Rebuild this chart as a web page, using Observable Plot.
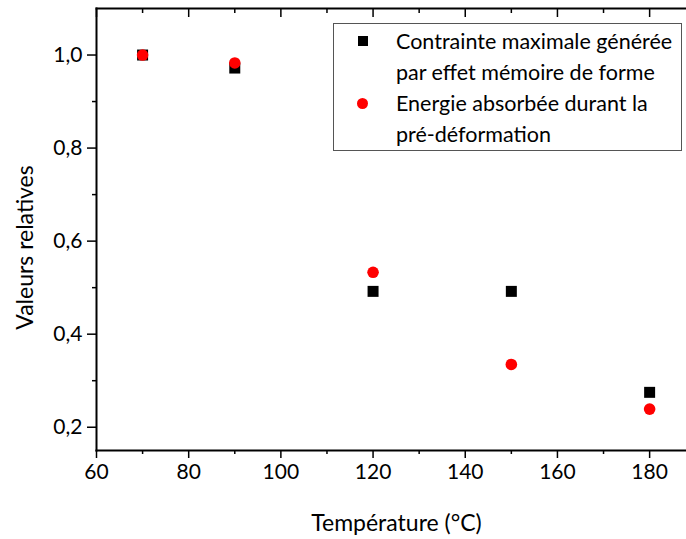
<!DOCTYPE html>
<html><head><meta charset="utf-8">
<script src="https://cdn.jsdelivr.net/npm/d3@7"></script>
<script src="https://cdn.jsdelivr.net/npm/@observablehq/plot@0.6"></script>
<style>
body{margin:0;background:#fff;}
#wrap{position:relative;width:686px;height:539px;font-family:Lato,sans-serif;}
#legend{position:absolute;left:333px;top:23px;width:349px;height:128px;border:1px solid #555;box-sizing:border-box;background:#fff;font-size:21.5px;color:#000;}
#legend .row{position:absolute;left:62px;white-space:nowrap;line-height:24px;}
#legend .sym{position:absolute;}
</style></head>
<body><div id="wrap"><div id="legend"></div></div>
<script>
const temperatures = [70, 90, 120, 150, 180];
const contrainte = [1.0, 0.972, 0.492, 0.492, 0.275];
const energie = [1.0, 0.983, 0.533, 0.335, 0.239];
const seriesNames = ["Contrainte maximale générée par effet mémoire de forme", "Energie absorbée durant la pré-déformation"];
const xMajor = [60, 80, 100, 120, 140, 160, 180];
const xMinor = [70, 90, 110, 130, 150, 170];
const yMajor = [0.2, 0.4, 0.6, 0.8, 1.0];
const yMinor = [0.3, 0.5, 0.7, 0.9];

const dataC = temperatures.map((t, i) => ({t, v: contrainte[i]}));
const dataE = temperatures.map((t, i) => ({t, v: energie[i]}));
const fmt = d => d.toFixed(1).replace(".", ",");

const chart = Plot.plot({
  width: 686, height: 539,
  marginLeft: 96, marginRight: 0, marginTop: 8, marginBottom: 89,
  style: {fontFamily: "Lato, sans-serif", fontSize: "21px", color: "#000", background: "#fff"},
  x: {domain: [60, 188]},
  y: {domain: [0.15, 1.1]},
  marks: [
    Plot.axisX(xMajor, {anchor: "bottom", tickSize: 8, tickPadding: 6, strokeWidth: 1.5, fontSize: 21, label: null}),
    Plot.axisX(xMinor, {anchor: "bottom", tickSize: 4, text: null, label: null, strokeWidth: 1.5}),
    Plot.axisX(xMajor, {anchor: "top", tickSize: -8, text: null, label: null, strokeWidth: 1.5}),
    Plot.axisX(xMinor, {anchor: "top", tickSize: -4, text: null, label: null, strokeWidth: 1.5}),
    Plot.axisY(yMajor, {anchor: "left", tickSize: 9, tickPadding: 5, tickFormat: fmt, strokeWidth: 1.5, fontSize: 21, label: null}),
    Plot.axisY(yMinor, {anchor: "left", tickSize: 4, text: null, label: null, strokeWidth: 1.5}),
    Plot.frame({anchor: "bottom", strokeWidth: 2}),
    Plot.frame({anchor: "left", strokeWidth: 2}),
    Plot.frame({anchor: "top", strokeWidth: 2}),
    Plot.dot(dataC, {x: "t", y: "v", symbol: "square", r: 6.2, fill: "#000", stroke: "none"}),
    Plot.dot(dataE, {x: "t", y: "v", symbol: "circle", r: 5.8, fill: "#ff0000", stroke: "none"}),
    Plot.text(["Température (°C)"], {frameAnchor: "bottom", textAnchor: "middle", lineAnchor: "middle", dx: 5, dy: 73, fontSize: 23}),
    Plot.text(["Valeurs relatives"], {frameAnchor: "left", textAnchor: "middle", lineAnchor: "middle", rotate: -90, dx: -71, dy: 18, fontSize: 23})
  ]
});
const wrap = document.getElementById("wrap");
wrap.insertBefore(chart, wrap.firstChild);

const leg = document.getElementById("legend");
const lines = [
  {txt: "Contrainte maximale générée", top: 5, sym: "sq"},
  {txt: "par effet mémoire de forme", top: 36},
  {txt: "Energie absorbée durant la", top: 67, sym: "ci"},
  {txt: "pré-déformation", top: 98}
];
lines.forEach(l => {
  const d = document.createElement("div");
  d.className = "row"; d.style.top = l.top + "px"; d.textContent = l.txt;
  leg.appendChild(d);
  if (l.sym) {
    const s = document.createElement("div");
    s.className = "sym";
    if (l.sym === "sq") { s.style.cssText = "left:24px;top:" + (l.top + 7) + "px;width:10px;height:10px;background:#000;"; }
    else { s.style.cssText = "left:23px;top:" + (l.top + 7) + "px;width:11px;height:11px;border-radius:50%;background:#ff0000;"; }
    leg.appendChild(s);
  }
});
</script></body></html>
